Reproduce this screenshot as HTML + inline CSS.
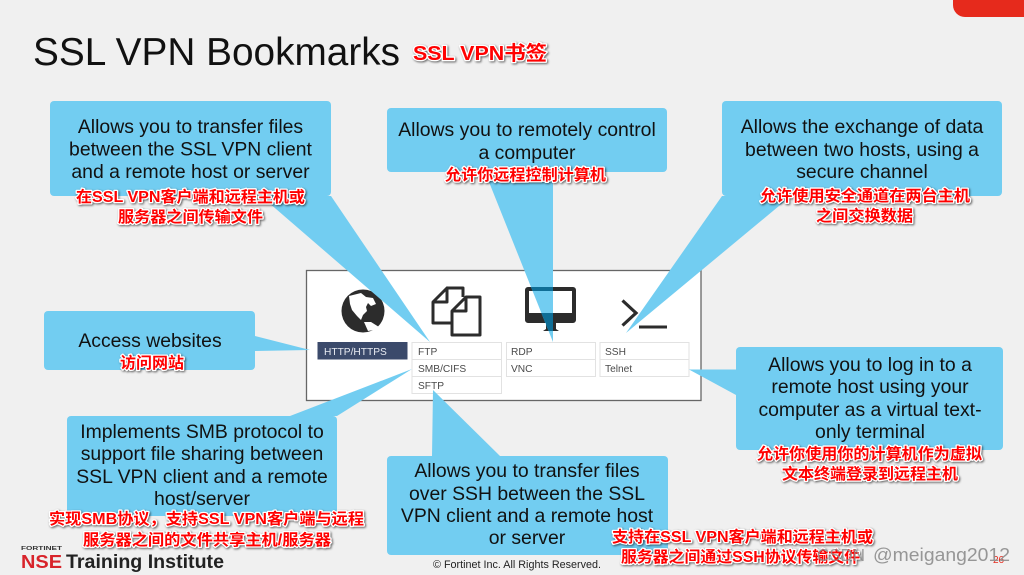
<!DOCTYPE html>
<html lang="zh">
<head>
<meta charset="utf-8">
<title>SSL VPN Bookmarks</title>
<style>
html,body{margin:0;padding:0;background:#f0f0f0;}
svg{display:block;}
text{font-family:"Liberation Sans","Noto Sans CJK SC",sans-serif;}
.c{font-size:19.4px;fill:#111;text-anchor:middle;}
.r{font-family:"Liberation Sans","Noto Sans CJK SC",sans-serif;font-size:15.5px;font-weight:bold;fill:#f00;stroke:#fff;stroke-width:2.6px;paint-order:stroke;stroke-linejoin:round;filter:drop-shadow(1px 1.5px 1px rgba(0,0,0,.6));}
.t{font-size:10.2px;fill:#4a4a4a;}
.b{fill:#fff;stroke:#e2e2e2;stroke-width:1;}
</style>
</head>
<body>
<svg width="1024" height="575" viewBox="0 0 1024 575" xmlns="http://www.w3.org/2000/svg">
<defs>
<clipPath id="tails">
<polygon points="485,172 553,172 553,342"/>
</clipPath>
<g id="mon">
<path fill-rule="evenodd" d="M528,287H573a3,3 0 0 1 3,3V320a3,3 0 0 1 -3,3H528a3,3 0 0 1 -3,-3V290a3,3 0 0 1 3,-3ZM529,291V313H572V291Z"/>
<path d="M546,323H556V329L559,331H543L546,329Z"/>
</g>
</defs>
<rect width="1024" height="575" fill="#f0f0f0"/>
<path d="M953,0H1024V17H965A12,12 0 0 1 953,5Z" fill="#e62a1c"/>

<text x="33" y="65" font-size="38.5" fill="#111" textLength="367" lengthAdjust="spacingAndGlyphs">SSL VPN Bookmarks</text>

<!-- frame -->
<rect x="306.500" y="270.500" width="394.500" height="130" fill="#fff" stroke="#666" stroke-width="1.3"/>

<!-- icons -->
<circle cx="363" cy="311" r="21.500" fill="#2c2c2c"/>
<path d="M349,296L361,293L366,297L373,298L376,304L371,306L368,303L366,307L367,311L363,315L361,320L357,316L352,310L350,304Z" fill="#fff"/>
<path d="M364,322L371,322L379,327L374,330L368,331Z" fill="#fff"/>
<g fill="none" stroke="#2c2c2c" stroke-width="3" stroke-linejoin="round">
<path d="M447,288H463V297M452,323H433V302L447,288V302H433"/>
<path d="M466,297H480V335H452V311ZM466,297V311H452" fill="#fff"/>
</g>
<use href="#mon" fill="#2c2c2c"/>
<path d="M622.500,300.500L636,313L622.500,325.500" fill="none" stroke="#2c2c2c" stroke-width="3.2"/>
<rect x="639" y="325.500" width="28" height="3" fill="#2c2c2c"/>

<!-- tables -->
<rect x="317.500" y="342" width="90" height="17.500" fill="#3b4a6b"/>
<text x="324" y="355" font-size="10.2" fill="#e8ebf2">HTTP/HTTPS</text>
<rect class="b" x="412" y="342.500" width="89.500" height="17"/>
<rect class="b" x="412" y="359.500" width="89.500" height="17"/>
<rect class="b" x="412" y="376.500" width="89.500" height="17"/>
<rect class="b" x="506.500" y="342.500" width="89" height="17"/>
<rect class="b" x="506.500" y="359.500" width="89" height="17"/>
<rect class="b" x="600" y="342.500" width="89" height="17"/>
<rect class="b" x="600" y="359.500" width="89" height="17"/>
<text class="t" x="418" y="355">FTP</text>
<text class="t" x="418" y="372">SMB/CIFS</text>
<text class="t" x="418" y="389">SFTP</text>
<text class="t" x="511" y="355">RDP</text>
<text class="t" x="511" y="372">VNC</text>
<text class="t" x="605" y="355">SSH</text>
<text class="t" x="605" y="372">Telnet</text>

<!-- callouts -->
<g fill="#72cdf1">
<polygon points="261,196 331,196 430,342"/>
<rect x="50" y="101" width="281" height="95" rx="4"/>
<polygon points="485,172 553,172 553,342"/>
<rect x="387" y="108" width="280" height="64" rx="4"/>
<polygon points="722,196 791,196 626,333"/>
<rect x="722" y="101" width="280" height="95" rx="4"/>
<polygon points="255,336 255,351 310,350"/>
<rect x="44" y="311" width="211" height="59" rx="4"/>
<polygon points="736,369.500 736,395 689,369.500"/>
<rect x="736" y="347" width="267" height="103" rx="4"/>
<polygon points="290,416 337,416 412,369"/>
<rect x="67" y="416" width="270" height="100" rx="4"/>
<polygon points="432,456 500,456 433,390"/>
<rect x="387" y="456" width="281" height="99" rx="4"/>
</g>
<g clip-path="url(#tails)"><use href="#mon" fill="#0f6e96"/></g>

<text class="c" x="190.500" y="133">Allows you to transfer files</text>
<text class="c" x="190.500" y="155.500">between the SSL VPN client</text>
<text class="c" x="190.500" y="178">and a remote host or server</text>
<text class="c" x="527" y="136">Allows you to remotely control</text>
<text class="c" x="527" y="159">a computer</text>
<text class="c" x="862" y="133">Allows the exchange of data</text>
<text class="c" x="862" y="156">between two hosts, using a</text>
<text class="c" x="862" y="178">secure channel</text>
<text class="c" x="150" y="347">Access websites</text>
<text class="c" x="870" y="371">Allows you to log in to a</text>
<text class="c" x="870" y="393">remote host using your</text>
<text class="c" x="870" y="416">computer as a virtual text-</text>
<text class="c" x="870" y="438">only terminal</text>
<text class="c" x="202" y="438">Implements SMB protocol to</text>
<text class="c" x="202" y="460">support file sharing between</text>
<text class="c" x="202" y="483">SSL VPN client and a remote</text>
<text class="c" x="202" y="505">host/server</text>
<text class="c" x="527" y="477">Allows you to transfer files</text>
<text class="c" x="527" y="500">over SSH between the SSL</text>
<text class="c" x="527" y="522">VPN client and a remote host</text>
<text class="c" x="527" y="544">or server</text>

<!-- footer -->
<text x="21" y="550" font-size="5.500" font-weight="bold" fill="#333" textLength="41" lengthAdjust="spacingAndGlyphs">FORTINET</text>
<text x="21" y="568" font-size="18.500" font-weight="bold" fill="#d8232a" textLength="41" lengthAdjust="spacingAndGlyphs">NSE</text>
<text x="66" y="568" font-size="19" font-weight="bold" fill="#222" textLength="158" lengthAdjust="spacingAndGlyphs">Training Institute</text>
<text x="433" y="568" font-size="11" fill="#222" textLength="168" lengthAdjust="spacingAndGlyphs">© Fortinet Inc. All Rights Reserved.</text>

<!-- red annotations -->
<text class="r" x="413" y="60" style="font-size:20px" textLength="134" lengthAdjust="spacingAndGlyphs">SSL VPN书签</text>
<text class="r" x="76" y="202" textLength="229" lengthAdjust="spacingAndGlyphs">在SSL VPN客户端和远程主机或</text>
<text class="r" x="118" y="222" textLength="145" lengthAdjust="spacingAndGlyphs">服务器之间传输文件</text>
<text class="r" x="445" y="180" textLength="161" lengthAdjust="spacingAndGlyphs">允许你远程控制计算机</text>
<text class="r" x="760" y="201" textLength="210" lengthAdjust="spacingAndGlyphs">允许使用安全通道在两台主机</text>
<text class="r" x="816" y="221" textLength="97" lengthAdjust="spacingAndGlyphs">之间交换数据</text>
<text class="r" x="120" y="368" textLength="64" lengthAdjust="spacingAndGlyphs">访问网站</text>
<text class="r" x="757" y="459" textLength="225" lengthAdjust="spacingAndGlyphs">允许你使用你的计算机作为虚拟</text>
<text class="r" x="782" y="479" textLength="176" lengthAdjust="spacingAndGlyphs">文本终端登录到远程主机</text>
<text class="r" x="49" y="524" textLength="315" lengthAdjust="spacingAndGlyphs">实现SMB协议，支持SSL VPN客户端与远程</text>
<text class="r" x="83" y="545" textLength="248" lengthAdjust="spacingAndGlyphs">服务器之间的文件共享主机/服务器</text>
<text class="r" x="612" y="542" textLength="261" lengthAdjust="spacingAndGlyphs">支持在SSL VPN客户端和远程主机或</text>
<text class="r" x="621" y="562" textLength="239" lengthAdjust="spacingAndGlyphs">服务器之间通过SSH协议传输文件</text>

<text x="993" y="563" font-size="10" fill="#e62a1c">26</text>
<text x="817" y="561" font-size="17.500" fill="#8c8c8c" fill-opacity=".85" textLength="48" lengthAdjust="spacingAndGlyphs">CSDN</text>
<text x="873" y="561" font-size="18" fill="#8c8c8c" fill-opacity=".9" textLength="137" lengthAdjust="spacingAndGlyphs">@meigang2012</text>
</svg>
</body>
</html>
